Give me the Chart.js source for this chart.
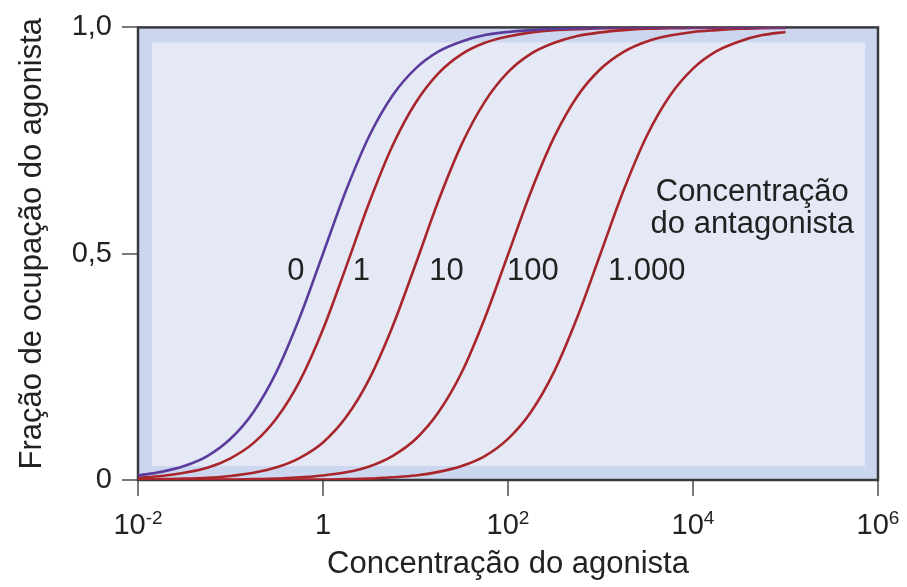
<!DOCTYPE html>
<html>
<head>
<meta charset="utf-8">
<script src="https://cdn.jsdelivr.net/npm/chart.js@4/dist/chart.umd.min.js"></script>
<style>
html,body{margin:0;padding:0;background:#fff;}
#wrap{width:907px;height:587px;position:relative;}
</style>
</head>
<body>
<div id="wrap"><canvas id="c" width="907" height="587"></canvas></div>
<script>
// agonist concentration sample points (x axis, log scale, quarter decades)
const agonistConc = [0.01, 0.0178, 0.0316, 0.0562, 0.1, 0.178, 0.316, 0.562, 1, 1.778, 3.162, 5.623, 10, 17.78, 31.62, 56.23, 100, 177.8, 316.2, 562.3, 1000, 1778, 3162, 5623, 10000, 17783, 31623, 56234, 100000];
// occupancy fraction read for each antagonist concentration
const occ0    = [0.010, 0.018, 0.031, 0.053, 0.091, 0.151, 0.240, 0.360, 0.500, 0.640, 0.760, 0.849, 0.909, 0.947, 0.969, 0.983, 0.990, 0.994, 0.997, 0.998, 0.999, 1.000, 1.000, 1.000, 1.000, 1.000, 1.000, 1.000, 1.000];
const occ1    = [0.005, 0.009, 0.016, 0.027, 0.048, 0.082, 0.137, 0.219, 0.333, 0.471, 0.613, 0.738, 0.833, 0.899, 0.941, 0.966, 0.980, 0.989, 0.994, 0.996, 0.998, 0.999, 0.999, 1.000, 1.000, 1.000, 1.000, 1.000, 1.000];
const occ10   = [0.001, 0.002, 0.003, 0.005, 0.009, 0.016, 0.028, 0.049, 0.083, 0.139, 0.223, 0.338, 0.476, 0.618, 0.742, 0.836, 0.901, 0.942, 0.966, 0.981, 0.989, 0.994, 0.997, 0.998, 0.999, 0.999, 1.000, 1.000, 1.000];
const occ100  = [0.000, 0.000, 0.000, 0.001, 0.001, 0.002, 0.003, 0.006, 0.010, 0.017, 0.030, 0.053, 0.090, 0.150, 0.238, 0.358, 0.498, 0.638, 0.758, 0.848, 0.908, 0.946, 0.969, 0.982, 0.990, 0.994, 0.997, 0.998, 0.999];
const occ1000 = [0.000, 0.000, 0.000, 0.000, 0.000, 0.000, 0.000, 0.001, 0.001, 0.002, 0.003, 0.006, 0.010, 0.018, 0.031, 0.053, 0.091, 0.151, 0.240, 0.360, 0.500, 0.640, 0.760, 0.849, 0.909, 0.947, 0.969, 0.983, 0.990];

const seriesNames = ['0', '1', '10', '100', '1.000'];
// curve label anchor positions (data coords)
const curveLabelX = [0.51, 2.6, 21.6, 186, 3162];
const curveLabelY = 0.47;

const xTickValues = [0.01, 1, 100, 10000, 1000000];
const xTickBase = ['10', '1', '10', '10', '10'];
const xTickExp  = ['-2', '', '2', '4', '6'];
const yTickValues = [0, 0.5, 1];
const yTickLabels = ['0', '0,5', '1,0'];

const xTitle = 'Concentração do agonista';
const yTitle = 'Fração de ocupação do agonista';
const noteLines = ['Concentração', 'do antagonista'];
const noteX = 43700;
const noteY = [0.64, 0.57];

const FONT = '"Liberation Sans", Arial, Helvetica, sans-serif';
const RED = '#a8262b';
const PURPLE = '#5b3c9c';
const colors = [PURPLE, RED, RED, RED, RED];
const allSeries = [occ0, occ1, occ10, occ100, occ1000];

const datasets = allSeries.map((s, i) => ({
  label: seriesNames[i],
  data: s.map((v, j) => ({x: agonistConc[j], y: v})),
  borderColor: colors[i],
  borderWidth: 2.6,
  pointRadius: 0,
  fill: false,
  cubicInterpolationMode: 'monotone'
}));

const framePlugin = {
  id: 'frame',
  beforeDatasetsDraw(chart) {
    const {ctx, chartArea: a} = chart;
    ctx.save();
    ctx.fillStyle = '#ccd6ee';
    ctx.fillRect(a.left, a.top, a.right - a.left, a.bottom - a.top);
    ctx.fillStyle = '#e5e9f5';
    ctx.fillRect(a.left + 14, a.top + 15, a.right - a.left - 27, a.bottom - a.top - 29);
    ctx.strokeStyle = '#3a3a3e';
    ctx.lineWidth = 2.5;
    ctx.strokeRect(a.left, a.top, a.right - a.left, a.bottom - a.top);
    ctx.restore();
  },
  afterDraw(chart) {
    const {ctx, chartArea: a} = chart;
    const xs = chart.scales.x, ys = chart.scales.y;
    ctx.save();
    ctx.fillStyle = '#222';
    // x tick labels with superscripts
    xTickValues.forEach((v, i) => {
      const px = xs.getPixelForValue(v);
      ctx.font = '29px ' + FONT;
      const bw = ctx.measureText(xTickBase[i]).width;
      ctx.font = '19px ' + FONT;
      const ew = xTickExp[i] ? ctx.measureText(xTickExp[i]).width : 0;
      const start = px - (bw + ew) / 2;
      ctx.textAlign = 'left';
      ctx.textBaseline = 'alphabetic';
      ctx.font = '29px ' + FONT;
      ctx.fillText(xTickBase[i], start, 534);
      if (xTickExp[i]) {
        ctx.font = '19px ' + FONT;
        ctx.fillText(xTickExp[i], start + bw, 524);
      }
    });
    // axis titles
    ctx.font = '31px ' + FONT;
    ctx.textAlign = 'center';
    ctx.textBaseline = 'alphabetic';
    ctx.fillText(xTitle, (a.left + a.right) / 2, 573);
    ctx.save();
    ctx.translate(41, (a.top + a.bottom) / 2 - 10);
    ctx.rotate(-Math.PI / 2);
    ctx.fillText(yTitle, 0, 0);
    ctx.restore();
    // curve labels
    ctx.font = '31px ' + FONT;
    seriesNames.forEach((n, i) => {
      ctx.fillText(n, xs.getPixelForValue(curveLabelX[i]), ys.getPixelForValue(curveLabelY) + 13);
    });
    // note
    noteLines.forEach((t, i) => {
      ctx.fillText(t, xs.getPixelForValue(noteX), ys.getPixelForValue(noteY[i]) + 11);
    });
    ctx.restore();
  }
};

new Chart(document.getElementById('c'), {
  type: 'line',
  data: {datasets},
  options: {
    responsive: false,
    animation: false,
    layout: {padding: {top: 25, right: 29, left: 0, bottom: 0}},
    plugins: {legend: {display: false}, tooltip: {enabled: false}},
    scales: {
      x: {
        type: 'logarithmic',
        min: 0.01, max: 1000000,
        afterBuildTicks(s) { s.ticks = xTickValues.map(v => ({value: v})); },
        afterFit(s) { s.height = 107; },
        ticks: {display: false},
        grid: {drawOnChartArea: false, drawTicks: true, tickLength: 16, color: '#7a7a7a', lineWidth: 2},
        border: {display: false}
      },
      y: {
        type: 'linear',
        min: 0, max: 1,
        afterBuildTicks(s) { s.ticks = yTickValues.map(v => ({value: v})); },
        afterFit(s) { s.width = 138; },
        ticks: {
          callback: (v) => { const i = yTickValues.indexOf(v); return i >= 0 ? yTickLabels[i] : ''; },
          font: {size: 29, family: FONT},
          color: '#222',
          padding: 10
        },
        grid: {drawOnChartArea: false, drawTicks: true, tickLength: 16, color: '#7a7a7a', lineWidth: 2},
        border: {display: false}
      }
    }
  },
  plugins: [framePlugin]
});
</script>
</body>
</html>
